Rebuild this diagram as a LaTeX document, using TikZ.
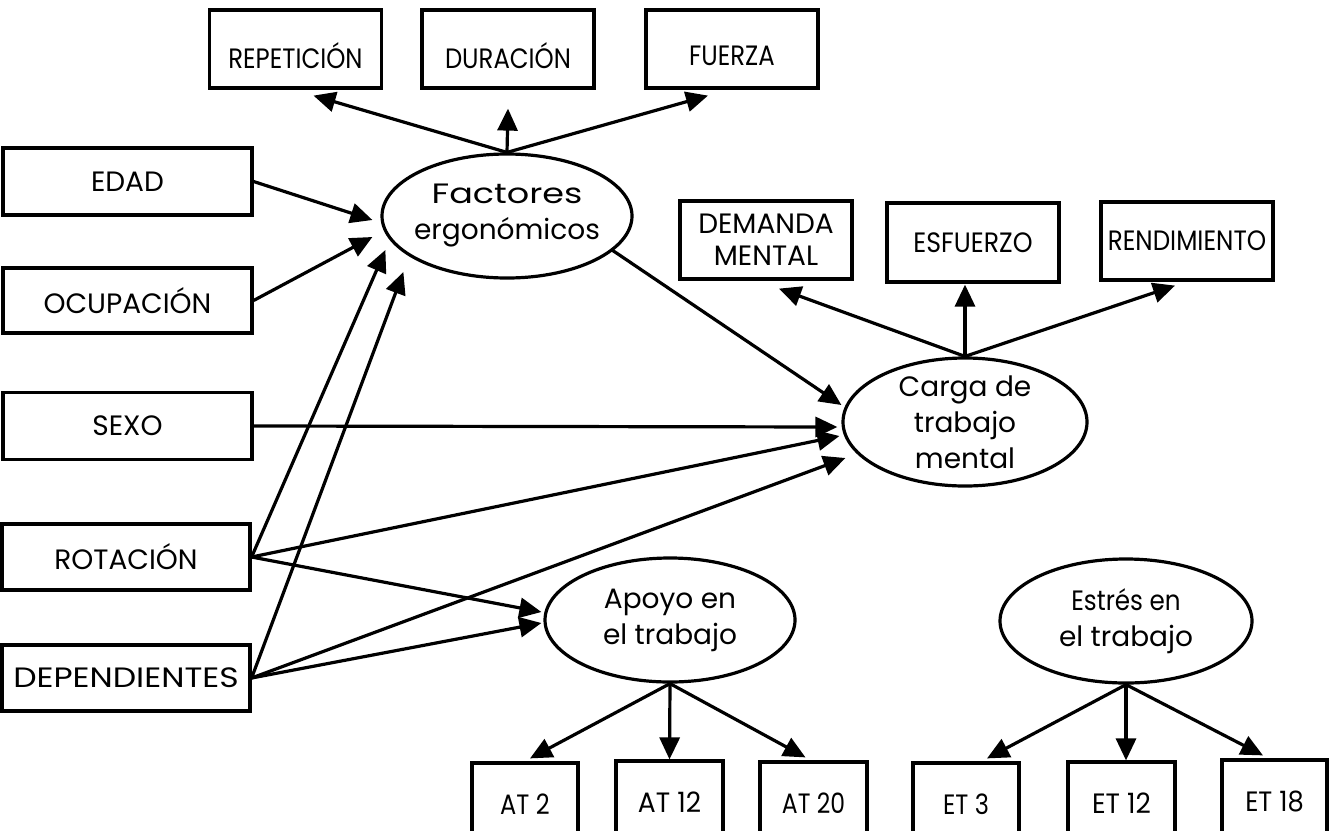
\documentclass[tikz,border=0pt]{standalone}
\usepackage{fontspec}
\setmainfont{Poppins}
\usetikzlibrary{arrows.meta,shapes.geometric,calc}
% horizontal squeeze or stretch of a label
\newcommand{\sx}[2]{\scalebox{#1}[1]{#2}}
\begin{document}
\begin{tikzpicture}[x=1pt,y=-1pt,
  lw/.style={line width=3.2pt},
  box/.style={draw,lw,rectangle,inner sep=0pt,minimum width=#1},
  box/.default=172pt,
  latent/.style={draw,lw,ellipse,inner sep=0pt,minimum width=250pt,minimum height=124pt},
  txt/.style={inner sep=0pt,align=center,font=\fontsize{28}{36}\selectfont},
  arr/.style={lw,-{Triangle[length=22pt,width=20pt]}}]
\useasboundingbox (0,0) rectangle (1337,830);
\clip (0,0) rectangle (1337,830);

% exogenous variables on the left
\node[box=249pt,minimum height=67pt,txt] (edad) at (127.5,181.5) {EDAD};
\node[box=249pt,minimum height=65pt,txt] (ocup) at (127.5,300.5) {OCUPACIÓN};
\node[box=249pt,minimum height=67pt,txt] (sexo) at (127.5,426) {SEXO};
\node[box=248pt,minimum height=66pt,txt] (rot) at (126,557) {ROTACIÓN};
\node[box=248pt,minimum height=66pt,txt] (dep) at (126,678) {\sx{1.18}{DEPENDIENTES}};

% latent factors
\node[latent] (fact) at (507,216) {};
\node[txt] (factT) at (fact) {\sx{1.25}{Factores}\\ergonómicos};
\node[latent,minimum height=128pt,minimum width=244pt] (carga) at (965,422) {};
\node[txt] (cargaT) at (carga) {Carga de\\trabajo\\mental};
\node[latent] (apoyo) at (670,620) {};
\node[txt] (apoyoT) at (apoyo) {Apoyo en\\el trabajo};
\node[latent,minimum width=252pt] (estres) at (1126,621) {};
\node[txt] (estresT) at (estres) {\sx{0.88}{Estrés en}\\el trabajo};

% indicators of the ergonomic factors
\node[box,minimum height=78pt] (rep) at (295.5,49) {};
\node[txt] (repT) at ($(rep)+(0,7)$) {\sx{0.87}{REPETICIÓN}};
\node[box,minimum height=78pt] (dur) at (508,49) {};
\node[txt] (durT) at ($(dur)+(0,7)$) {\sx{0.87}{DURACIÓN}};
\node[box,minimum height=78pt] (fue) at (732,49) {};
\node[txt] (fueT) at ($(fue)+(0,7)$) {\sx{0.87}{FUERZA}};

% indicators of mental workload
\node[box,minimum height=78pt,txt] (dem) at (766,240) {DEMANDA\\[-4pt]MENTAL};
\node[box,minimum height=79pt,txt] (esf) at (973,242.5) {\sx{0.9}{ESFUERZO}};
\node[box,minimum height=78pt,txt] (ren) at (1187,241) {\sx{0.88}{RENDIMIENTO}};

% indicators of work support and work stress
\node[box=106pt,minimum height=82pt,txt] (at2) at (525,804) {\sx{0.86}{AT 2}};
\node[box=107pt,minimum height=82pt,txt] (at12) at (669.5,802) {\sx{0.95}{AT 12}};
\node[box=107pt,minimum height=82pt,txt] (at20) at (813.5,803) {\sx{0.84}{AT 20}};
\node[box=106pt,minimum height=82pt,txt] (et3) at (966,804) {\sx{0.86}{ET 3}};
\node[box=107pt,minimum height=82pt,txt] (et12) at (1121.5,803) {\sx{0.95}{ET 12}};
\node[box=105pt,minimum height=82pt,txt] (et18) at (1274.5,801) {\sx{0.92}{ET 18}};

% loadings
\draw[arr] (fact.north) -- ($(rep.south)+(18,6)$);
\draw[arr] (fact.north) -- ($(dur.south)+(0,19)$);
\draw[arr] (fact.north) -- ($(fue.south)+(-24,6)$);
\draw[arr] (carga.north) -- ($(dem.south)+(13,8)$);
\draw[arr] (carga.north) -- ($(esf.south)+(-8,1)$);
\draw[arr] (carga.north) -- ($(ren.south)+(-12,4)$);
\draw[arr] (apoyo.south) -- ($(at2.north)+(5,-3)$);
\draw[arr] (apoyo.south) -- (at12.north);
\draw[arr] (apoyo.south) -- ($(at20.north)+(-8,-3)$);
\draw[arr] (estres.south) -- ($(et3.north)+(21,-3)$);
\draw[arr] (estres.south) -- ($(et12.north)+(4.5,0)$);
\draw[arr] (estres.south) -- ($(et18.north)+(-11.5,-3)$);

% structural paths
\draw[arr] (edad.east) -- ($(fact.west)+(-8,4)$);
\draw[arr] (ocup.east) -- ($(fact.west)+(-8,21)$);
\draw[arr] (rot.east) -- ($(fact.west)+(5,34)$);
\draw[arr] (dep.east) -- ($(fact.west)+(23,56)$);
\draw[arr] ($(fact.center)+(105,34)$) -- ($(carga.west)+(0,-17)$);
\draw[arr] (sexo.east) -- ($(carga.west)+(-4,5)$);
\draw[arr] (rot.east) -- ($(carga.west)+(-2,14)$);
\draw[arr] (dep.east) -- ($(carga.west)+(4,36)$);
\draw[arr] (rot.east) -- ($(apoyo.west)+(-2,-8)$);
\draw[arr] (dep.east) -- ($(apoyo.west)+(-2,3)$);
\end{tikzpicture}
\end{document}
